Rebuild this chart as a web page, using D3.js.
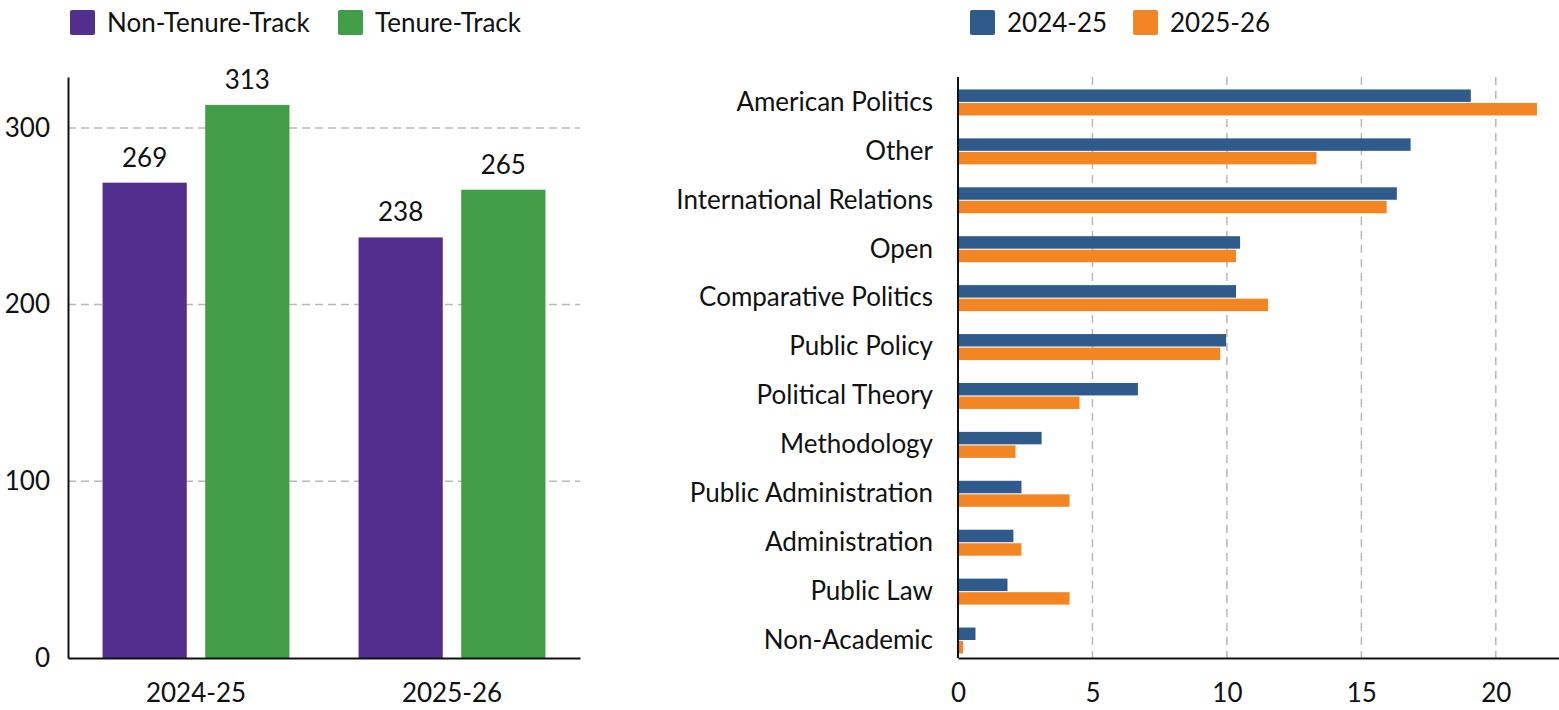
<!DOCTYPE html>
<html>
<head>
<meta charset="utf-8">
<script src="https://cdn.jsdelivr.net/npm/d3@7"></script>
<style>
  body { margin: 0; background: #fff; }
  svg { display: block; font-family: Lato, "Open Sans", sans-serif; }
</style>
</head>
<body>
<svg id="chart" width="1559" height="710"></svg>
<script>
// left chart data
const years = ["2024-25", "2025-26"];
const tracks = ["Non-Tenure-Track", "Tenure-Track"];
const nonTenure = [269, 238];
const tenure = [313, 265];
const leftTicks = [0, 100, 200, 300];

// right chart data
const fields = ["American Politics", "Other", "International Relations", "Open",
  "Comparative Politics", "Public Policy", "Political Theory", "Methodology",
  "Public Administration", "Administration", "Public Law", "Non-Academic"];
const seasons = ["2024-25", "2025-26"];
const share2425 = [19.07, 16.83, 16.32, 10.49, 10.34, 9.97, 6.69, 3.11, 2.36, 2.06, 1.84, 0.65];
const share2526 = [21.53, 13.33, 15.94, 10.34, 11.53, 9.75, 4.52, 2.14, 4.15, 2.36, 4.15, 0.19];
const rightTicks = [0, 5, 10, 15, 20];

const trackColor = {"Non-Tenure-Track": "#522e8f", "Tenure-Track": "#419d48"};
const seasonColor = {"2024-25": "#2e5a8c", "2025-26": "#f38622"};

const svg = d3.select("#chart");
const fontSize = 26;

// ---------- left chart ----------
const L = {left: 68, right: 580, top: 77, bottom: 658};

const x0 = d3.scaleBand().domain(years).range([L.left, L.right]).paddingInner(0.27).paddingOuter(0.135);
const x1 = d3.scaleBand().domain(tracks).range([0, x0.bandwidth()]).paddingInner(0.18);
const yL = d3.scaleLinear().domain([0, 328.8]).range([L.bottom, L.top]);

const leftRows = years.map((yr, i) => ({year: yr, values: [
  {track: tracks[0], v: nonTenure[i]},
  {track: tracks[1], v: tenure[i]}
]}));

// grid
svg.append("g")
  .selectAll("line")
  .data(leftTicks.filter(d => d > 0))
  .join("line")
  .attr("x1", L.left).attr("x2", L.right)
  .attr("y1", d => yL(d)).attr("y2", d => yL(d))
  .attr("stroke", "#b8b8b8").attr("stroke-width", 1.5)
  .attr("stroke-dasharray", "8,5");

const groups = svg.append("g")
  .selectAll("g")
  .data(leftRows)
  .join("g")
  .attr("transform", d => `translate(${x0(d.year)},0)`);

groups.selectAll("rect")
  .data(d => d.values)
  .join("rect")
  .attr("x", d => x1(d.track))
  .attr("y", d => yL(d.v))
  .attr("width", x1.bandwidth())
  .attr("height", d => yL(0) - yL(d.v))
  .attr("fill", d => trackColor[d.track]);

groups.selectAll("text")
  .data(d => d.values)
  .join("text")
  .attr("x", d => x1(d.track) + x1.bandwidth() / 2)
  .attr("y", d => yL(d.v) - 16)
  .attr("text-anchor", "middle")
  .attr("font-size", fontSize)
  .attr("fill", "#111")
  .text(d => d.v);

// axes
const yAxisL = svg.append("g")
  .attr("transform", `translate(${L.left},0)`)
  .call(d3.axisLeft(yL).tickValues(leftTicks).tickSize(0).tickPadding(18));
yAxisL.select(".domain").attr("stroke", "#111").attr("stroke-width", 2);
yAxisL.selectAll("text").attr("font-size", fontSize).attr("fill", "#111").attr("font-family", "Lato");

const xAxisL = svg.append("g")
  .attr("transform", `translate(0,${L.bottom})`)
  .call(d3.axisBottom(x0).tickSize(0).tickPadding(26));
xAxisL.select(".domain").attr("stroke", "#111").attr("stroke-width", 2);
xAxisL.selectAll("text").attr("font-size", fontSize).attr("fill", "#111").attr("font-family", "Lato");

// legend left
const legL = svg.append("g").attr("transform", "translate(70,10)");
const legLx = [0, 268];
tracks.forEach((t, i) => {
  legL.append("rect").attr("x", legLx[i]).attr("y", 0).attr("width", 25).attr("height", 25)
    .attr("rx", 2).attr("fill", trackColor[t]);
  legL.append("text").attr("x", legLx[i] + 37).attr("y", 22)
    .attr("font-size", fontSize).attr("fill", "#111").text(t);
});

// ---------- right chart ----------
const R = {left: 958, right: 1559, top: 77, bottom: 658};

const xR = d3.scaleLinear().domain([0, 22.35]).range([R.left, R.right]);
const yR = d3.scaleBand().domain(fields).range([78, 665]);
const yR1 = d3.scaleBand().domain(seasons).range([yR.bandwidth() / 2 - 13, yR.bandwidth() / 2 + 13]).paddingInner(0.08);

svg.append("g")
  .selectAll("line")
  .data(rightTicks.filter(d => d > 0))
  .join("line")
  .attr("x1", d => xR(d)).attr("x2", d => xR(d))
  .attr("y1", R.top).attr("y2", R.bottom)
  .attr("stroke", "#b8b8b8").attr("stroke-width", 1.5)
  .attr("stroke-dasharray", "8,6");

const rightRows = fields.map((f, i) => ({field: f, values: [
  {season: seasons[0], v: share2425[i]},
  {season: seasons[1], v: share2526[i]}
]}));

svg.append("g")
  .selectAll("g")
  .data(rightRows)
  .join("g")
  .attr("transform", d => `translate(0,${yR(d.field)})`)
  .selectAll("rect")
  .data(d => d.values)
  .join("rect")
  .attr("x", xR(0))
  .attr("y", d => yR1(d.season))
  .attr("width", d => xR(d.v) - xR(0))
  .attr("height", yR1.bandwidth())
  .attr("fill", d => seasonColor[d.season]);

const yAxisR = svg.append("g")
  .attr("transform", `translate(${R.left},0)`)
  .call(d3.axisLeft(yR).tickSize(0).tickPadding(25));
yAxisR.select(".domain").remove();
yAxisR.selectAll("text").attr("font-size", fontSize).attr("fill", "#111").attr("font-family", "Lato");
svg.append("line")
  .attr("x1", R.left).attr("x2", R.left).attr("y1", R.top).attr("y2", R.bottom)
  .attr("stroke", "#111").attr("stroke-width", 2);

const xAxisR = svg.append("g")
  .attr("transform", `translate(0,${R.bottom})`)
  .call(d3.axisBottom(xR).tickValues(rightTicks).tickSize(0).tickPadding(26));
xAxisR.select(".domain").attr("stroke", "#111").attr("stroke-width", 2);
xAxisR.selectAll("text").attr("font-size", fontSize).attr("fill", "#111").attr("font-family", "Lato");

// legend right
const legR = svg.append("g").attr("transform", "translate(970,10)");
const legRx = [0, 163];
seasons.forEach((s, i) => {
  legR.append("rect").attr("x", legRx[i]).attr("y", 0).attr("width", 25).attr("height", 25)
    .attr("rx", 2).attr("fill", seasonColor[s]);
  legR.append("text").attr("x", legRx[i] + 37).attr("y", 22)
    .attr("font-size", fontSize).attr("fill", "#111").text(s);
});
</script>
</body>
</html>
